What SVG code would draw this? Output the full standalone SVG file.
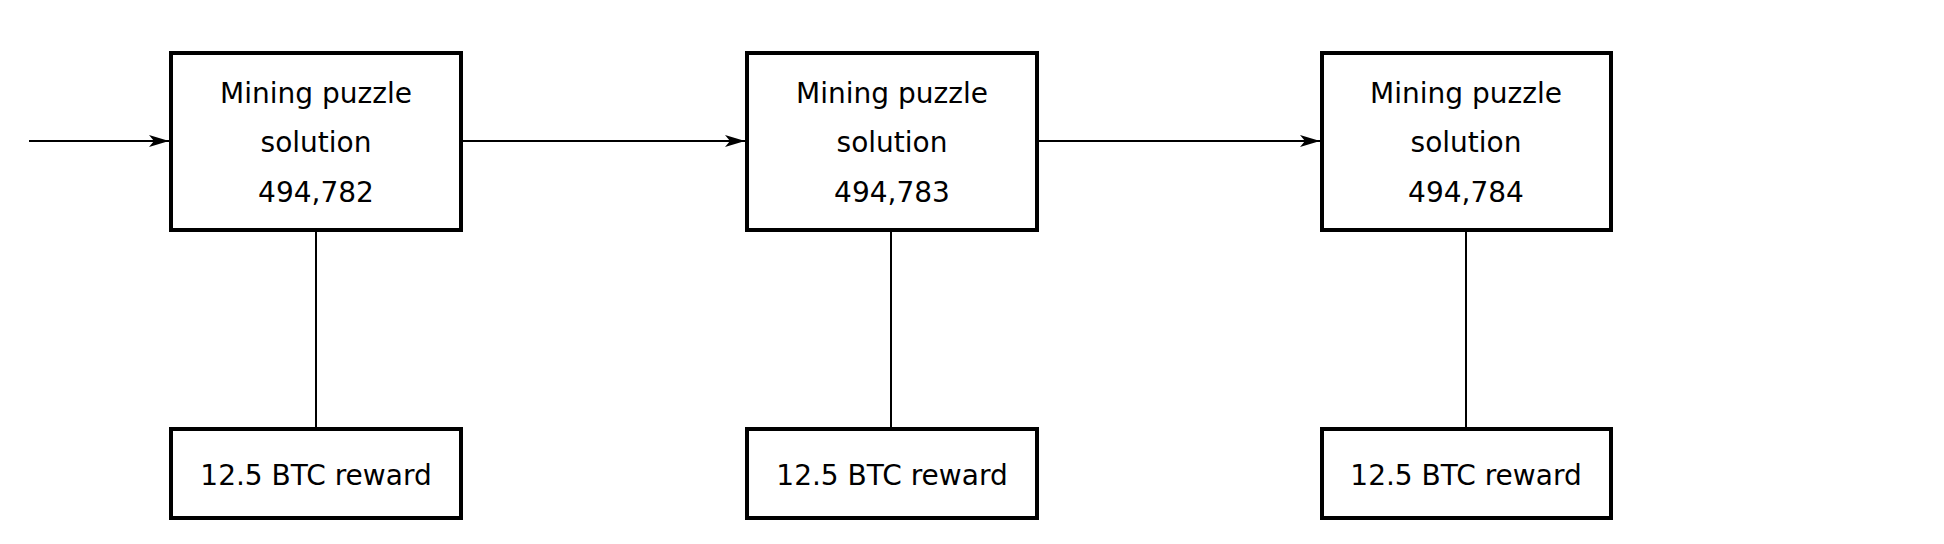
<svg xmlns="http://www.w3.org/2000/svg" width="1944" height="544" viewBox="0 0 1944 544">
<style>
.box{fill:#fff;stroke:#000;stroke-width:4}
.t{font-family:"DejaVu Sans",sans-serif;font-size:28px;text-anchor:middle;dominant-baseline:central;fill:#000}
.c{stroke:#000;stroke-width:2;fill:none}
</style>
<defs><marker id="a" viewBox="0 0 20 12" refX="20" refY="6" markerWidth="20" markerHeight="12" markerUnits="userSpaceOnUse" orient="auto"><path d="M0,0 L20,6 L0,12 L5,6 z" fill="#000"/></marker></defs>
<rect width="1944" height="544" fill="#fff"/>
<g id="connectors">
<line class="c" x1="29" y1="141" x2="169" y2="141" marker-end="url(#a)" stroke-width="2.5" style="marker-end:url(#a)" transform="scale(1)" />
<line class="c" x1="463" y1="141" x2="745" y2="141" marker-end="url(#a)"/>
<line class="c" x1="1039" y1="141" x2="1320" y2="141" marker-end="url(#a)"/>
<line class="c" x1="316" y1="230" x2="316" y2="427"/>
<line class="c" x1="891" y1="230" x2="891" y2="427"/>
<line class="c" x1="1466" y1="230" x2="1466" y2="427"/>
</g>
<g id="block1"><rect class="box" x="171" y="53" width="290" height="177"/><text class="t" x="316" y="93">Mining puzzle</text><text class="t" x="316" y="142">solution</text><text class="t" x="316" y="192">494,782</text></g>
<g id="block2"><rect class="box" x="747" y="53" width="290" height="177"/><text class="t" x="892" y="93">Mining puzzle</text><text class="t" x="892" y="142">solution</text><text class="t" x="892" y="192">494,783</text></g>
<g id="block3"><rect class="box" x="1322" y="53" width="289" height="177"/><text class="t" x="1466" y="93">Mining puzzle</text><text class="t" x="1466" y="142">solution</text><text class="t" x="1466" y="192">494,784</text></g>
<g id="reward1"><rect class="box" x="171" y="429" width="290" height="89"/><text class="t" x="316" y="475">12.5 BTC reward</text></g>
<g id="reward2"><rect class="box" x="747" y="429" width="290" height="89"/><text class="t" x="892" y="475">12.5 BTC reward</text></g>
<g id="reward3"><rect class="box" x="1322" y="429" width="289" height="89"/><text class="t" x="1466" y="475">12.5 BTC reward</text></g>
</svg>
